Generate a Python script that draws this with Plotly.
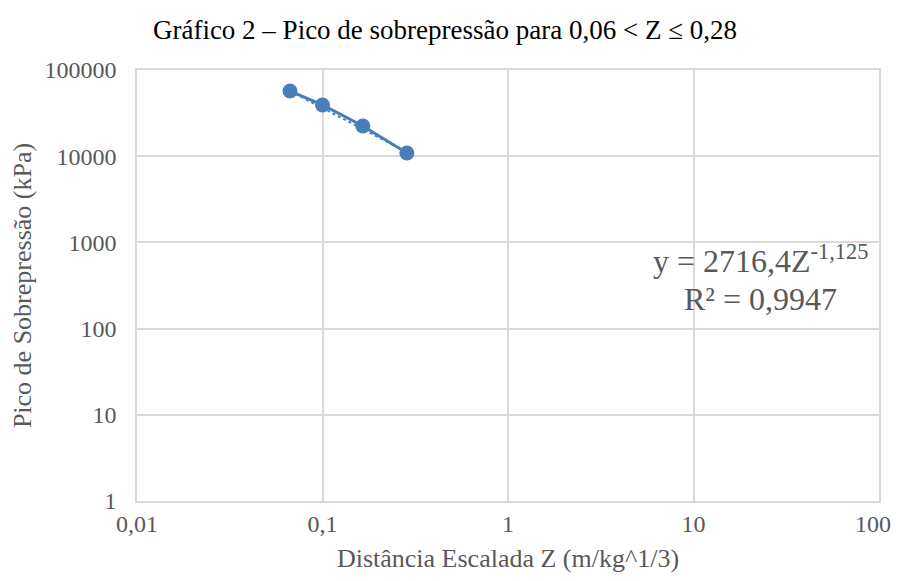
import plotly.graph_objects as go
import numpy as np

z_values = [0.0668, 0.100, 0.165, 0.285]
pressure_kpa = [57000, 39300, 22400, 10900]
fit_coef = 2716.4
fit_exp = -1.125
x_ticks = [0.01, 0.1, 1, 10, 100]
x_tick_labels = ["0,01", "0,1", "1", "10", "100\u00a0\u00a0"]
y_ticks = [1, 10, 100, 1000, 10000, 100000]
y_tick_labels = ["1", "10", "100", "1000", "10000", "100000"]

color = "#4a7ebb"
grid = "#d9d9d9"
txt = "#595959"
serif = "Liberation Serif"

fit_x = np.array([z_values[0], z_values[-1]])
fit_y = fit_coef * fit_x ** fit_exp

# page has an 8px body margin; keep the figure inside the 901x581 window
W, H = 885, 565
L, R, T, B = 129, 14, 62, 72
PW, PH = W - L - R, H - T - B


def px(sx):
    return (sx - 8 - L) / PW


def py(sy):
    return (T + PH - (sy - 8)) / PH


fig = go.Figure()
fig.add_trace(go.Scatter(x=list(fit_x), y=list(fit_y), mode="lines",
                         line=dict(color=color, width=2, dash="dot"), showlegend=False))
fig.add_trace(go.Scatter(x=z_values, y=pressure_kpa, mode="lines+markers",
                         line=dict(color=color, width=3),
                         marker=dict(color=color, size=15), showlegend=False))

fig.update_layout(
    width=W, height=H,
    margin=dict(l=L, r=R, t=T, b=B, autoexpand=False),
    paper_bgcolor="white", plot_bgcolor="white",
    font=dict(family=serif, size=24, color=txt),
    title=dict(text="Gráfico 2 – Pico de sobrepressão para 0,06 < Z ≤ 0,28",
               x=437 / W, xref="container", xanchor="center",
               y=1 - 22 / H, yanchor="middle",
               font=dict(family=serif, size=27, color="#000000")),
    xaxis=dict(type="log", range=[-2, 2], tickvals=x_ticks, ticktext=x_tick_labels,
               showgrid=True, gridcolor=grid, gridwidth=1.5,
               showline=True, linecolor=grid, linewidth=1.5, mirror=True,
               zeroline=False, ticks="", ticklabelstandoff=0,
               ticklabeloverflow="allow",
               tickfont=dict(family=serif, size=24, color=txt),
               title=dict(text="Distância Escalada Z (m/kg^1/3)",
                          font=dict(family=serif, size=26, color=txt), standoff=14)),
    yaxis=dict(type="log", range=[0, 5], tickvals=y_ticks, ticktext=y_tick_labels,
               showgrid=True, gridcolor=grid, gridwidth=1.5,
               showline=True, linecolor=grid, linewidth=1.5, mirror=True,
               zeroline=False, ticks="", ticklabelstandoff=14,
               ticklabeloverflow="allow",
               tickfont=dict(family=serif, size=24, color=txt),
               title=dict(text="Pico de Sobrepressão (kPa)",
                          font=dict(family=serif, size=26, color=txt), standoff=10)),
)

boundary = py(280)
fig.add_annotation(x=px(760), y=boundary, xref="paper", yref="paper", showarrow=False,
                   xanchor="center", yanchor="bottom", borderpad=0,
                   text="y = 2716,4Z<sup>-1,125</sup>",
                   font=dict(family=serif, size=32, color=txt))
fig.add_annotation(x=px(760), y=boundary, xref="paper", yref="paper", showarrow=False,
                   xanchor="center", yanchor="top", borderpad=0,
                   text="R² = 0,9947",
                   font=dict(family=serif, size=32, color=txt))

fig.write_html("out.html")
